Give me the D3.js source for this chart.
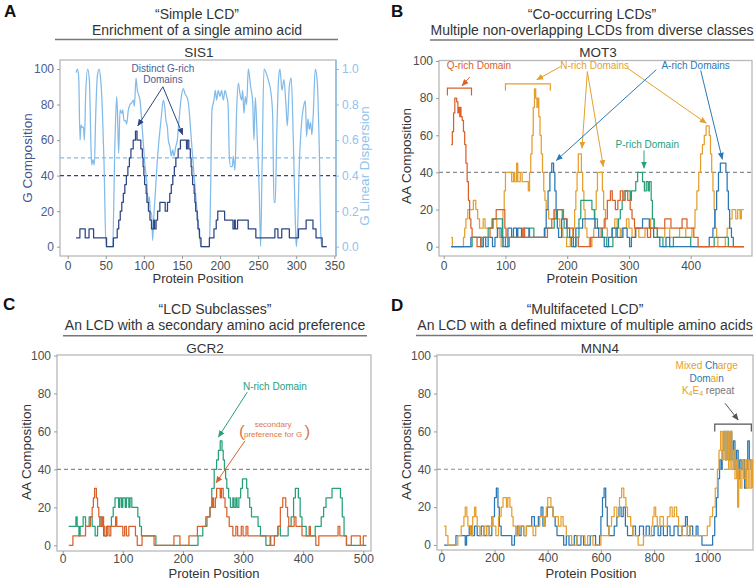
<!DOCTYPE html>
<html>
<head>
<meta charset="utf-8">
<script src="https://cdn.jsdelivr.net/npm/d3@7"></script>
<style>
body { margin: 0; background: #fff; }
svg { font-family: "Liberation Sans", Arial, Helvetica, sans-serif; }
</style>
</head>
<body>
<svg id="fig" width="756" height="579"></svg>
<script>
// ---- data: step values as [protein position, value] ----

// A  SIS1
var sis1G = [[11,5],[16,10],[23,5],[28,10],[34,5],[51,0],[60,5],[65,10],[67,15],[69,20],[71,25],[73,30],[75,35],[77,40],[79,45],[81,50],[83,55],[86,60],[89,65],[91,60],[96,55],[98,50],[99,45],[100,40],[101,35],[103,30],[104,25],[106,20],[108,15],[110,10],[113,15],[114,10],[116,15],[118,20],[121,25],[128,20],[131,25],[134,30],[136,35],[138,40],[140,45],[142,50],[145,55],[148,60],[156,55],[157,60],[159,55],[161,50],[162,45],[163,40],[164,35],[166,30],[167,25],[168,20],[170,15],[171,10],[173,5],[175,0],[186,5],[192,10],[195,15],[197,20],[206,15],[217,10],[219,15],[220,10],[223,15],[237,10],[247,5],[272,10],[276,5],[281,10],[291,5],[303,10],[313,15],[322,10],[326,5],[334,0],[340,0]];
var sis1Disp = [[11,0.98],[12.7,1.0],[14.4,0.96],[16.2,0.6],[17.5,0.685],[18.8,0.67],[20.6,0.675],[21.9,0.6],[23.6,0.86],[26.2,1.0],[28.4,0.94],[30.6,0.56],[31.5,0.46],[33.2,0.49],[35,0.46],[36.7,0.73],[38.9,0.96],[41.1,1.0],[43.3,0.94],[45.5,0.77],[47.7,0.47],[50.3,0],[59,0],[62,0.58],[64.3,0.845],[65.2,0.77],[66.9,0.525],[68.7,0.77],[70.9,0.75],[72.2,0.77],[73.9,0.71],[76.1,0.71],[77.4,0.69],[79.6,0.77],[81.8,0.8],[84,0.81],[86.2,0.825],[87.5,0.79],[89.7,0.95],[91.4,0.88],[92.7,0.86],[94.9,0.825],[97.1,0.71],[99.3,0.58],[101.5,0.45],[103.7,0.375],[105.9,0.24],[107.2,0.28],[108.5,0.19],[110.2,0.19],[111.5,0.035],[113.3,0.19],[115,0.3],[116.8,0.43],[119.4,0.58],[121.2,0.66],[122.9,0.73],[125.5,0.825],[127.3,0.79],[129,0.71],[130.8,0.675],[132.1,0.6],[134.3,0.56],[136,0.51],[137.8,0.545],[139.5,0.51],[141.7,0.56],[143.9,0.6],[146.5,0.73],[149.2,0.845],[151.8,0.89],[154,0.86],[156.2,0.845],[158.4,0.81],[160.5,0.71],[162.7,0.58],[165.8,0.41],[169.3,0.225],[172.8,0.075],[175,0],[186,0],[187.7,0.34],[189.4,0.77],[192,0.825],[193.8,0.88],[195.5,0.825],[197.7,0.88],[199.9,0.845],[202,0.88],[204.3,0.825],[206.5,0.88],[208.7,0.845],[210.4,0.81],[212.2,0.51],[213.9,0.45],[216.1,0.45],[217.4,0.51],[219.6,0.43],[221.8,0.77],[224,0.92],[226.2,0.86],[228.3,0.825],[229.7,0.88],[231.4,0.75],[233.2,0.845],[234.9,0.8],[237.1,1.0],[240.2,0.9],[242.8,0.82],[244.5,0.6],[246.3,0.84],[248.9,0.6],[251.5,0.3],[253.3,0],[255,0.4],[257.7,1.0],[261.2,0.97],[263.8,0.93],[266.4,0.88],[269,0.75],[270.8,0.25],[272.5,0.25],[274.3,0.6],[276.9,0.95],[278.7,1.0],[281.3,0.88],[283.9,0.94],[286.5,0.8],[288.3,0.68],[290.9,0.9],[293.5,0.95],[296.2,0.6],[298.8,0.15],[300.1,0],[301.8,0.1],[304,0.45],[307.1,0.7],[310.2,0.8],[312,0.82],[313.6,0.62],[315.4,0.72],[317.1,0.66],[318.9,0.7],[320.6,0.63],[322.4,0.75],[325,1.0],[327.6,0.93],[330.3,0.55],[332.5,0.05],[333.8,0],[340,0]];

// B  MOT3
var mot3Q = [[12,55],[14,62],[16,72],[18,80],[21,78],[23,72],[25,75],[26,70],[27,75],[28,70],[30,68],[32,62],[34,55],[36,45],[38,35],[40,25],[42,15],[44,10],[46,5],[54,0],[60,5],[75,10],[80,15],[85,20],[99,10],[101,5],[128,10],[131,5],[168,10],[175,15],[180,20],[194,15],[200,10],[210,5],[218,0],[238,5],[255,10],[260,15],[265,25],[270,30],[273,25],[278,20],[282,25],[286,30],[290,25],[294,30],[298,25],[302,20],[305,15],[309,10],[330,5],[335,10],[358,15],[368,10],[386,15],[394,10],[405,5],[412,0],[486,0]];
var mot3N = [[12,5],[14,0],[32,5],[34,10],[36,15],[39,20],[48,25],[52,20],[55,15],[58,10],[64,15],[67,10],[78,15],[86,10],[90,5],[93,0],[96,20],[98,30],[100,40],[110,35],[113,40],[115,35],[118,45],[120,35],[124,40],[127,35],[137,30],[139,40],[141,50],[143,60],[145,75],[147,85],[149,80],[151,75],[152,80],[154,70],[156,60],[158,50],[160,40],[162,30],[164,25],[166,20],[170,15],[178,20],[183,15],[188,10],[193,5],[199,0],[205,5],[209,10],[212,20],[214,30],[216,40],[218,50],[223,40],[225,30],[227,20],[229,10],[232,5],[236,0],[240,5],[243,10],[245,20],[247,30],[249,40],[257,30],[259,20],[262,10],[265,5],[272,10],[277,15],[281,10],[286,5],[291,10],[296,15],[300,10],[305,5],[310,10],[316,5],[326,10],[335,15],[340,10],[346,5],[358,10],[366,5],[382,10],[392,5],[402,10],[407,20],[410,30],[413,40],[416,50],[419,55],[422,60],[425,65],[430,60],[432,50],[434,40],[436,30],[438,20],[440,10],[442,5],[444,0],[456,5],[459,10],[463,15],[467,20],[473,15],[476,20],[480,15],[482,20],[486,20]];
var mot3A = [[12,0],[44,5],[60,0],[64,5],[68,0],[72,5],[79,0],[83,5],[87,10],[93,5],[96,0],[104,10],[110,5],[113,10],[118,5],[120,10],[126,5],[130,10],[138,5],[163,10],[166,20],[169,30],[172,40],[175,45],[178,40],[180,30],[182,20],[184,10],[186,5],[191,15],[199,10],[204,5],[210,0],[214,10],[225,15],[245,10],[251,5],[260,0],[267,5],[273,10],[281,5],[289,10],[297,5],[301,0],[304,5],[311,10],[322,15],[333,10],[340,5],[350,0],[360,5],[366,0],[430,5],[436,10],[439,20],[442,30],[445,40],[448,45],[457,40],[459,30],[461,20],[463,10],[466,5],[469,0],[486,0]];
var mot3P = [[12,0],[46,5],[60,0],[64,5],[72,10],[79,15],[95,5],[100,0],[106,5],[139,10],[146,5],[164,10],[179,15],[183,20],[192,15],[195,10],[200,5],[207,0],[214,5],[219,15],[222,25],[240,20],[244,15],[249,10],[257,5],[264,0],[274,5],[279,10],[283,15],[286,20],[289,25],[292,30],[302,25],[304,30],[311,35],[314,40],[322,35],[325,30],[328,35],[331,30],[333,35],[336,25],[338,15],[341,10],[346,5],[355,0],[372,5],[400,0],[438,5],[461,0],[486,0]];

// C  GCR2
var gcr2N = [[10,10],[22,15],[24,10],[27,5],[29,10],[34,15],[38,10],[44,15],[49,10],[54,5],[58,10],[62,15],[65,10],[68,5],[74,10],[81,15],[84,20],[87,25],[93,20],[95,25],[98,20],[100,25],[104,20],[106,25],[110,20],[112,25],[115,20],[125,15],[128,10],[131,5],[155,0],[225,5],[233,10],[240,15],[245,20],[248,30],[252,40],[256,45],[259,50],[262,55],[265,50],[267,45],[269,40],[271,35],[273,30],[276,25],[279,20],[283,25],[285,20],[288,25],[290,20],[293,25],[296,30],[299,35],[306,30],[308,25],[311,20],[314,15],[325,10],[329,5],[338,0],[346,5],[358,10],[362,5],[375,10],[380,15],[384,25],[387,30],[392,25],[395,15],[398,10],[405,5],[420,10],[430,15],[434,20],[438,25],[448,30],[462,25],[465,15],[468,5],[472,0],[505,0]];
var gcr2G = [[10,0],[17,5],[38,10],[46,15],[49,20],[51,25],[53,30],[56,25],[58,20],[60,15],[62,10],[66,15],[68,10],[70,5],[73,10],[77,5],[80,10],[88,15],[90,10],[100,5],[103,10],[106,5],[110,10],[121,5],[124,0],[132,5],[152,0],[185,5],[195,0],[210,5],[224,10],[238,15],[245,20],[249,25],[251,20],[254,25],[256,30],[262,25],[264,30],[267,25],[270,20],[273,15],[277,10],[283,5],[288,10],[291,5],[297,10],[300,5],[305,10],[308,5],[345,0],[352,5],[358,10],[362,20],[366,25],[371,20],[374,15],[376,10],[385,15],[388,10],[398,5],[410,10],[412,5],[421,0],[426,5],[458,10],[461,5],[472,0],[480,5],[495,0],[500,5],[506,5]];

// D  MNN4
var mnn4Blue = [[10,0],[55,5],[90,0],[95,5],[105,10],[115,5],[125,10],[135,5],[150,10],[160,5],[170,10],[180,5],[190,15],[200,25],[207,30],[213,20],[218,10],[225,5],[265,0],[275,5],[285,10],[292,5],[300,10],[310,5],[320,10],[340,15],[350,10],[365,15],[375,20],[382,10],[390,15],[398,20],[420,15],[428,10],[435,5],[460,0],[470,5],[480,0],[500,5],[510,0],[525,5],[535,0],[560,5],[580,0],[595,5],[600,15],[606,25],[612,30],[618,20],[624,10],[630,5],[650,10],[660,15],[668,20],[676,15],[684,20],[692,10],[700,5],[720,10],[730,5],[745,10],[760,5],[770,10],[782,5],[800,10],[815,5],[825,10],[835,5],[850,10],[860,5],[875,10],[890,5],[905,10],[918,15],[925,5],[935,10],[945,5],[958,10],[965,5],[980,0],[1020,5],[1028,15],[1034,25],[1040,35],[1046,45],[1052,40],[1056,50],[1062,60],[1068,45],[1074,60],[1080,45],[1086,60],[1092,45],[1098,55],[1104,40],[1110,50],[1116,35],[1122,45],[1128,40],[1134,45],[1140,30],[1146,40],[1152,55],[1158,45],[1164,40],[1170,40]];
var mnn4Gold = [[10,10],[17,5],[25,0],[62,5],[75,10],[85,15],[90,20],[96,15],[100,10],[110,5],[118,15],[125,20],[130,15],[135,10],[145,5],[160,10],[170,5],[180,10],[190,15],[195,10],[205,5],[215,15],[225,20],[232,25],[245,20],[250,25],[258,20],[265,15],[270,10],[280,5],[290,10],[310,5],[320,10],[345,5],[355,10],[370,15],[385,10],[390,15],[395,20],[400,25],[412,20],[420,15],[440,10],[450,15],[458,10],[470,5],[490,0],[510,5],[540,0],[550,5],[570,0],[600,5],[630,10],[640,15],[650,20],[660,15],[670,25],[678,30],[686,25],[694,20],[700,15],[712,10],[720,5],[740,0],[760,5],[790,10],[795,15],[800,20],[806,15],[812,10],[822,15],[835,10],[850,15],[860,20],[868,15],[876,20],[885,15],[892,10],[905,5],[925,10],[935,5],[1000,10],[1010,15],[1020,20],[1030,30],[1038,40],[1044,50],[1050,60],[1056,45],[1062,60],[1068,45],[1074,60],[1080,40],[1086,60],[1092,40],[1098,50],[1104,35],[1110,45],[1114,20],[1118,40],[1124,30],[1130,45],[1136,35],[1142,45],[1148,30],[1154,45],[1160,30],[1166,45],[1170,30]];

// ticks
var yTicks = [0, 20, 40, 60, 80, 100];
var dispTicks = [0, 0.2, 0.4, 0.6, 0.8, 1.0];
var xTicksA = [0, 50, 100, 150, 200, 250, 300, 350];
var xTicksB = [0, 100, 200, 300, 400];
var xTicksC = [0, 100, 200, 300, 400, 500];
var xTicksD = [0, 200, 400, 600, 800, 1000];

// colours
var navy = "#2c4584", sky = "#82bbe9";
var gold = "#e59f2e", red = "#d9622b", blue = "#2a78b5", green = "#27a07a";
var grayText = "#4d4d4d";

var svg = d3.select("#fig");
var defs = svg.append("defs");

function arrowMarker(id, color) {
    defs.append("marker")
        .attr("id", id)
        .attr("viewBox", "0 0 8 8")
        .attr("refX", 7.5).attr("refY", 4)
        .attr("markerWidth", 7).attr("markerHeight", 7)
        .attr("markerUnits", "userSpaceOnUse")
        .attr("orient", "auto")
        .append("path")
        .attr("d", "M0,0.6 L8,4 L0,7.4 Z")
        .attr("fill", color);
}
arrowMarker("ar-navy", navy);
arrowMarker("ar-gold", gold);
arrowMarker("ar-red", red);
arrowMarker("ar-blue", blue);
arrowMarker("ar-green", green);
arrowMarker("ar-gray", "#555");

function stepLine(x, y) {
    return d3.line()
        .curve(d3.curveStepAfter)
        .x(function(d) { return x(d[0]); })
        .y(function(d) { return y(d[1]); });
}

function styleAxis(g, color) {
    g.select(".domain").remove();
    g.selectAll(".tick line").attr("stroke", "#9a9a9a");
    g.selectAll(".tick text")
        .attr("fill", color || grayText)
        .attr("font-size", 12)
        .attr("font-family", "Liberation Sans, Arial, sans-serif");
}

function drawPanel(p) {
    var g = svg.append("g");
    var x = d3.scaleLinear().domain(p.xDomain).range(p.xRange);
    var y = d3.scaleLinear().domain([0, 100]).range(p.yRange);
    var b = p.box;

    g.append("rect")
        .attr("x", b[0]).attr("y", b[2])
        .attr("width", b[1] - b[0]).attr("height", b[3] - b[2])
        .attr("fill", "none").attr("stroke", "#b8b8b8").attr("stroke-width", 1.3);

    var xa = g.append("g")
        .attr("transform", "translate(0," + b[3] + ")")
        .call(d3.axisBottom(x).tickValues(p.xTicks).tickFormat(d3.format("d"))
            .tickSize(3).tickPadding(p.xPad));
    styleAxis(xa);

    var ya = g.append("g")
        .attr("transform", "translate(" + b[0] + ",0)")
        .call(d3.axisLeft(y).tickValues(yTicks).tickSize(3).tickPadding(3));
    styleAxis(ya, p.yTickColor);

    // panel letter and titles
    g.append("text").attr("x", p.letter[1]).attr("y", p.letter[2])
        .attr("font-size", 17).attr("font-weight", "bold").attr("fill", "#111")
        .text(p.letter[0]);
    g.append("text").attr("x", p.titleX).attr("y", p.titleY[0])
        .attr("text-anchor", "middle").attr("font-size", 14).attr("fill", "#333")
        .text(p.title[0]);
    g.append("text").attr("x", p.titleX).attr("y", p.titleY[1])
        .attr("text-anchor", "middle").attr("font-size", 14).attr("fill", "#333")
        .text(p.title[1]);
    g.append("line")
        .attr("x1", p.rule[0]).attr("x2", p.rule[1])
        .attr("y1", p.titleY[2]).attr("y2", p.titleY[2])
        .attr("stroke", "#777").attr("stroke-width", 1.5);
    g.append("text").attr("x", p.gene[1]).attr("y", p.gene[2])
        .attr("text-anchor", "middle").attr("font-size", 13.5).attr("fill", "#333")
        .text(p.gene[0]);

    // axis titles
    g.append("text").attr("x", p.xTitle[0]).attr("y", p.xTitle[1])
        .attr("text-anchor", "middle").attr("font-size", 13).attr("fill", "#333")
        .text("Protein Position");
    g.append("text")
        .attr("transform", "translate(" + p.yTitle[0] + "," + p.yTitle[1] + ")rotate(-90)")
        .attr("text-anchor", "middle").attr("font-size", 13.5)
        .attr("fill", p.yTitleColor || "#333")
        .text(p.yTitleText);

    return {g: g, x: x, y: y, box: b};
}

function threshold(P, value, color, yScale) {
    var ys = yScale || P.y;
    P.g.append("line")
        .attr("x1", P.box[0]).attr("x2", P.box[1])
        .attr("y1", ys(value)).attr("y2", ys(value))
        .attr("stroke", color).attr("stroke-width", 1.1)
        .attr("stroke-dasharray", "4,3");
}

function series(P, data, color) {
    P.g.append("path").datum(data)
        .attr("fill", "none").attr("stroke", color).attr("stroke-width", 1.25)
        .attr("stroke-linejoin", "round")
        .attr("d", stepLine(P.x, P.y));
}

function arrow(P, from, to, color, marker) {
    P.g.append("line")
        .attr("x1", P.x(from[0])).attr("y1", P.y(from[1]))
        .attr("x2", P.x(to[0])).attr("y2", P.y(to[1]))
        .attr("stroke", color).attr("stroke-width", 1)
        .attr("marker-end", "url(#" + marker + ")");
}

function label(P, pos, val, txt, color, size) {
    return P.g.append("text")
        .attr("x", P.x(pos)).attr("y", P.y(val))
        .attr("text-anchor", "middle").attr("font-size", size || 10)
        .attr("fill", color).text(txt);
}

function bracket(P, x0, x1, top, bottom, color) {
    var path = d3.path();
    path.moveTo(P.x(x0), P.y(bottom));
    path.lineTo(P.x(x0), P.y(top));
    path.lineTo(P.x(x1), P.y(top));
    path.lineTo(P.x(x1), P.y(bottom));
    P.g.append("path").attr("d", path.toString())
        .attr("fill", "none").attr("stroke", color).attr("stroke-width", 1.2);
}

// ---------- A ----------
var A = drawPanel({
    box: [60, 336, 60, 256], xDomain: [0, 350], xRange: [67.7, 334.3], yRange: [246.7, 69],
    xTicks: xTicksA, xPad: 2, letter: ["A", 4, 17],
    title: ["\u201cSimple LCD\u201d", "Enrichment of a single amino acid"],
    titleX: 197, titleY: [18.5, 35, 39.5], rule: [55, 338], gene: ["SIS1", 199, 56.5],
    xTitle: [198, 283], yTitle: [31.5, 158], yTitleText: "G Composition",
    yTitleColor: "#3f5590", yTickColor: "#4a5d92"
});
var yDisp = d3.scaleLinear().domain([0, 1]).range([246.7, 69]);
var ra = A.g.append("g")
    .attr("transform", "translate(" + A.box[1] + ",0)")
    .call(d3.axisRight(yDisp).tickValues(dispTicks).tickFormat(d3.format(".1f")).tickSize(3).tickPadding(3));
styleAxis(ra, "#8fc2ec");
ra.selectAll(".tick line").attr("stroke", sky);
A.g.append("line").attr("x1", A.box[1]).attr("x2", A.box[1]).attr("y1", A.box[2]).attr("y2", A.box[3])
    .attr("stroke", sky).attr("stroke-width", 1.3);
A.g.append("text")
    .attr("transform", "translate(369,166)rotate(-90)")
    .attr("text-anchor", "middle").attr("font-size", 13.5).attr("fill", "#8fc2ec")
    .text("G Linear Dispersion");

threshold(A, 0.5, sky, yDisp);
threshold(A, 40, navy);
A.g.append("path").datum(sis1Disp)
    .attr("fill", "none").attr("stroke", sky).attr("stroke-width", 1.25)
    .attr("d", d3.line().curve(d3.curveMonotoneX)
        .x(function(d) { return A.x(d[0]); })
        .y(function(d) { return yDisp(d[1]); }));
series(A, sis1G, navy);
label(A, 125, 98.5, "Distinct G-rich", "#4a5d92");
label(A, 125, 92.3, "Domains", "#4a5d92");
arrow(A, [125, 90], [92, 68], navy, "ar-navy");
arrow(A, [125, 90], [151, 63], navy, "ar-navy");

// ---------- B ----------
var B = drawPanel({
    box: [439, 752, 60.5, 256], xDomain: [0, 400], xRange: [443.7, 690.7], yRange: [246.7, 61],
    xTicks: xTicksB, xPad: 2, letter: ["B", 391, 17],
    title: ["\u201cCo-occurring LCDs\u201d", "Multiple non-overlapping LCDs from diverse classes"],
    titleX: 592, titleY: [18.5, 35, 40], rule: [430, 754], gene: ["MOT3", 598, 56.5],
    xTitle: [592, 283], yTitle: [411, 156], yTitleText: "AA Composition"
});
threshold(B, 40, "#8c8c8c");
series(B, mot3N, gold);
series(B, mot3P, green);
series(B, mot3A, blue);
series(B, mot3Q, red);

label(B, 57, 95.6, "Q-rich Domain", red);
bracket(B, 6, 45, 85.4, 81.4, red);
arrow(B, [42, 91.3], [29.6, 86.6], red, "ar-red");

label(B, 244.5, 95.6, "N-rich Domains", gold);
bracket(B, 100, 172.6, 87.7, 84, gold);
arrow(B, [189.5, 97], [150.6, 89.9], gold, "ar-gold");
arrow(B, [232.6, 94.3], [223.9, 53], gold, "ar-gold");
arrow(B, [232.6, 94.3], [258.5, 43.1], gold, "ar-gold");
arrow(B, [297.4, 96.2], [425.3, 66.5], gold, "ar-gold");

label(B, 408, 95.6, "A-rich Domains", blue);
arrow(B, [344.3, 95.3], [182.3, 46.4], blue, "ar-blue");
arrow(B, [416.2, 94.9], [451.2, 47.1], blue, "ar-blue");

label(B, 329.7, 53.4, "P-rich Domain", green);
arrow(B, [324.4, 51.8], [324.4, 42.3], green, "ar-green");

// ---------- C ----------
var C = drawPanel({
    box: [57, 371, 355, 551], xDomain: [0, 500], xRange: [62.7, 363.3], yRange: [545.3, 355.5],
    xTicks: xTicksC, xPad: 0.5, letter: ["C", 3, 310],
    title: ["\u201cLCD Subclasses\u201d", "An LCD with a secondary amino acid preference"],
    titleX: 215, titleY: [313.5, 329.5, 335.7], rule: [63, 367], gene: ["GCR2", 205, 352.5],
    xTitle: [214, 577.5], yTitle: [30.5, 452], yTitleText: "AA Composition"
});
threshold(C, 40, "#8c8c8c");
series(C, gcr2N, green);
series(C, gcr2G, red);

label(C, 353, 81.6, "N-rich Domain", green);
arrow(C, [307, 80.7], [259, 57], green, "ar-green");
label(C, 350, 62.3, "secondary", "#d9784a", 8);
label(C, 350, 57, "preference for G", "#d9784a", 8);
label(C, 298, 56.8, "(", "#d9784a", 17).attr("font-weight", "300");
label(C, 407, 56.8, ")", "#d9784a", 17).attr("font-weight", "300");
arrow(C, [303, 55], [255, 32.9], red, "ar-red");

// ---------- D ----------
var D = drawPanel({
    box: [437, 753, 355, 550], xDomain: [0, 1000], xRange: [441.3, 707.3], yRange: [545, 355.7],
    xTicks: xTicksD, xPad: 0.5, letter: ["D", 391, 311],
    title: ["\u201cMultifaceted LCD\u201d", "An LCD with a defined mixture of multiple amino acids"],
    titleX: 585, titleY: [313.5, 329.5, 335.5], rule: [416, 753], gene: ["MNN4", 600, 352.5],
    xTitle: [591, 577.5], yTitle: [411, 452], yTitleText: "AA Composition"
});
threshold(D, 40, "#8c8c8c");
series(D, mnn4Blue, blue);
series(D, mnn4Gold, gold);

var t1 = label(D, 997.7, 92.8, "", gold);
t1.append("tspan").attr("fill", gold).text("Mixed ");
t1.append("tspan").attr("fill", blue).text("Ch");
t1.append("tspan").attr("fill", gold).text("arge");
var t2 = label(D, 997.7, 86.3, "", blue);
t2.append("tspan").attr("fill", blue).text("Dom");
t2.append("tspan").attr("fill", gold).text("ai");
t2.append("tspan").attr("fill", blue).text("n");
var t3 = label(D, 1003, 79.6, "", gold);
t3.append("tspan").attr("fill", gold).text("K");
t3.append("tspan").attr("fill", gold).attr("font-size", 7).attr("dy", 2).text("4");
t3.append("tspan").attr("fill", gold).attr("dy", -2).text("E");
t3.append("tspan").attr("fill", gold).attr("font-size", 7).attr("dy", 2).text("4");
t3.append("tspan").attr("fill", "#777").attr("dy", -2).text(" repeat");
arrow(D, [1066.5, 74.9], [1116.5, 66], "#555", "ar-gray");
bracket(D, 1028, 1165.6, 63.9, 59.9, "#555");
</script>
</body>
</html>
